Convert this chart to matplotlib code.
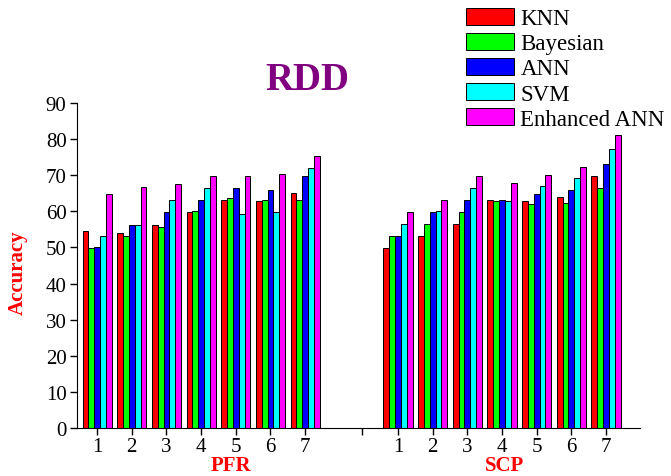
import matplotlib
matplotlib.use("Agg")
import matplotlib.pyplot as plt
import numpy as np

plt.rcParams['font.family'] = ['Liberation Serif', 'DejaVu Serif']

methods = ["KNN", "Bayesian", "ANN", "SVM", "Enhanced ANN"]
colors = ["#FF0000", "#00FF00", "#0000FF", "#00FFFF", "#FF00FF"]
tick_labels = ["1", "2", "3", "4", "5", "6", "7"]

pfr_knn = [54.5, 53.9, 56.3, 59.9, 63.1, 62.8, 65.2]
pfr_bayes = [49.9, 53.2, 55.8, 60.0, 63.6, 63.1, 63.1]
pfr_ann = [50.0, 56.2, 59.9, 63.1, 66.5, 65.9, 69.8]
pfr_svm = [53.2, 56.2, 63.1, 66.5, 59.3, 59.8, 71.9]
pfr_enh = [64.8, 66.8, 67.6, 69.9, 69.7, 70.3, 75.4]

scp_knn = [49.8, 53.3, 56.5, 63.2, 62.9, 63.9, 69.8]
scp_bayes = [53.3, 56.5, 59.8, 62.9, 62.0, 62.3, 66.6]
scp_ann = [53.3, 59.8, 63.1, 63.2, 64.7, 65.9, 73.1]
scp_svm = [56.5, 60.1, 66.5, 62.9, 66.9, 69.3, 77.2]
scp_enh = [59.7, 63.1, 69.7, 67.8, 70.2, 72.2, 81.1]

pfr = [pfr_knn, pfr_bayes, pfr_ann, pfr_svm, pfr_enh]
scp = [scp_knn, scp_bayes, scp_ann, scp_svm, scp_enh]

fig = plt.figure(figsize=(6.71, 4.77), dpi=100)
ax = fig.add_axes([77/671, 1-429/477, (640-77)/671, (429-104)/477])

pfr_x = np.arange(1, 8)
scp_x = pfr_x + 8.68
w = 0.168
for i in range(5):
    off = (i - 2) * w
    ax.bar(pfr_x + off, pfr[i], width=w, color=colors[i], edgecolor='black',
           linewidth=0.7, label=methods[i])
    ax.bar(scp_x + off, scp[i], width=w, color=colors[i], edgecolor='black',
           linewidth=0.7)

ax.set_xlim(0.42, 16.66)
ax.set_ylim(0, 90)
ax.set_yticks(np.arange(0, 91, 10))
ax.set_xticks(list(pfr_x) + [8.64] + list(scp_x))
ax.set_xticklabels(tick_labels + [""] + tick_labels)
for s in ['top', 'right']:
    ax.spines[s].set_visible(False)
ax.tick_params(axis='both', direction='out', labelsize=15, length=5, width=1, colors='black')
ax.tick_params(axis='x', pad=1.5)
ax.tick_params(axis='y', pad=2.5)

fig.text(18/671, 1-273/477, "Accuracy", rotation=90, color='red', fontsize=15,
         fontweight='bold', ha='center', va='center')
fig.text(231/671, 1-466/477, "PFR", color='red', fontsize=15, fontweight='bold',
         ha='center', va='center')
fig.text(505/671, 1-466/477, "SCP", color='red', fontsize=15, fontweight='bold',
         ha='center', va='center')
fig.text(307/671, 1-81/477, "RDD", color='#800080', fontsize=28, fontweight='bold',
         ha='center', va='center')

fig.legend(loc='upper left', bbox_to_anchor=(466/671, 1-9/477), frameon=False,
           fontsize=16.5, handlelength=2.1, handleheight=0.75, handletextpad=0.27,
           labelspacing=0.16, borderpad=0, borderaxespad=0)

fig.savefig("out.png", dpi=100)
